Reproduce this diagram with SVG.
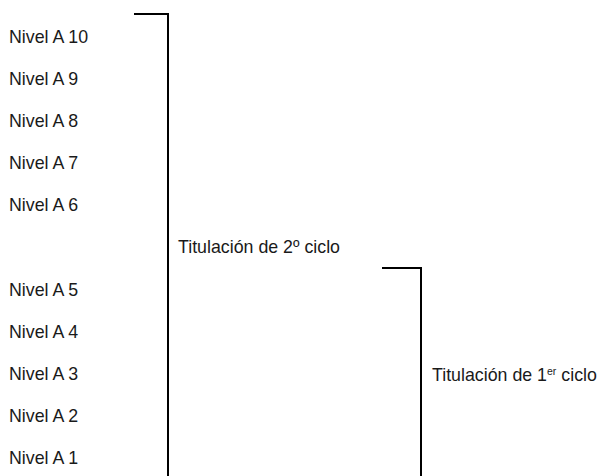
<svg xmlns="http://www.w3.org/2000/svg" width="598" height="476" viewBox="0 0 598 476">
<style>
text{font-family:"Liberation Sans",Arial,Helvetica,sans-serif;font-size:17.8px;fill:#1a1a1a}
.br{fill:none;stroke:#000;stroke-width:2}
</style>
<rect width="598" height="476" fill="#fff"/>
<g id="levels">
<g id="n10"><text x="9" y="43">Nivel A 10</text></g>
<g id="n9"><text x="9" y="85">Nivel A 9</text></g>
<g id="n8"><text x="9" y="127">Nivel A 8</text></g>
<g id="n7"><text x="9" y="169">Nivel A 7</text></g>
<g id="n6"><text x="9" y="211">Nivel A 6</text></g>
<g id="n5"><text x="9" y="296">Nivel A 5</text></g>
<g id="n4"><text x="9" y="338">Nivel A 4</text></g>
<g id="n3"><text x="9" y="380">Nivel A 3</text></g>
<g id="n2"><text x="9" y="422">Nivel A 2</text></g>
<g id="n1"><text x="9" y="464">Nivel A 1</text></g>
</g>
<g id="connectors">
<path class="br" d="M134 14H168V476"/>
<path class="br" d="M382 268H421V476"/>
</g>
<g id="t2"><text x="178" y="253">Titulación de 2º ciclo</text></g>
<g id="t1"><text x="432" y="381">Titulación de 1<tspan font-size="10.5" dy="-6">er</tspan><tspan dy="6"> ciclo</tspan></text></g>
</svg>
